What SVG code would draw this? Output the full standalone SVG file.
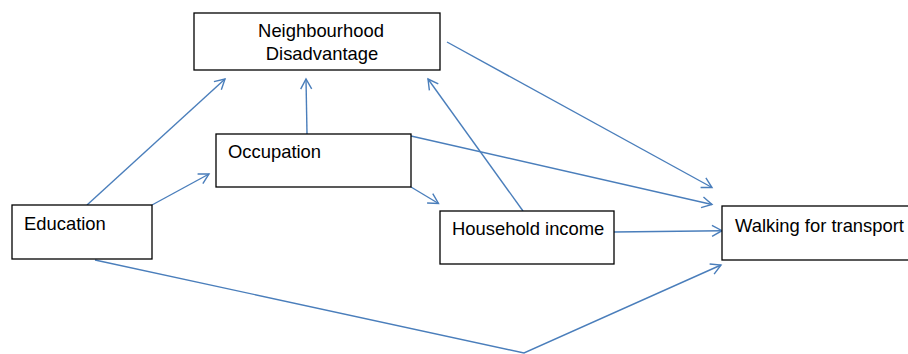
<svg xmlns="http://www.w3.org/2000/svg" width="908" height="354" viewBox="0 0 908 354">
<defs>
<style>
.box{fill:#fff;stroke:#000;stroke-width:1.3}
.lbl{font-family:"Liberation Sans",Arial,sans-serif;font-size:18.4px;fill:#000}
.c{fill:none;stroke:#4a7ebb;stroke-width:1.4}
</style>
<marker id="arr" markerUnits="userSpaceOnUse" markerWidth="14" markerHeight="14" viewBox="-12 -7 14 14" refX="0" refY="0" orient="auto">
<path d="M-10,-5.5 L0,0 L-10,5.5" fill="none" stroke="#4a7ebb" stroke-width="1.4"/>
</marker>
</defs>
<rect width="908" height="354" fill="#fff"/>
<g id="connectors">
<line class="c" x1="87" y1="205" x2="225" y2="79" marker-end="url(#arr)"/>
<line class="c" x1="152" y1="205" x2="209" y2="174" marker-end="url(#arr)"/>
<line class="c" x1="307" y1="134" x2="306" y2="79" marker-end="url(#arr)"/>
<line class="c" x1="523" y1="211" x2="428" y2="79" marker-end="url(#arr)"/>
<line class="c" x1="447" y1="42" x2="712" y2="187.5" marker-end="url(#arr)"/>
<line class="c" x1="411" y1="136" x2="712" y2="204.5" marker-end="url(#arr)"/>
<line class="c" x1="411" y1="187" x2="438.5" y2="203.5" marker-end="url(#arr)"/>
<line class="c" x1="614" y1="232" x2="722" y2="230.7" marker-end="url(#arr)"/>
<polyline class="c" points="95,260 524,353 721,265" marker-end="url(#arr)"/>
</g>
<g id="neighbourhood">
<rect class="box" x="194" y="13" width="246" height="57"/>
<text class="lbl" x="321" y="37" text-anchor="middle">Neighbourhood</text>
<text class="lbl" x="322" y="60" text-anchor="middle">Disadvantage</text>
</g>
<g id="occupation">
<rect class="box" x="216" y="134" width="195" height="53"/>
<text class="lbl" x="228" y="158">Occupation</text>
</g>
<g id="education">
<rect class="box" x="12" y="205" width="140" height="54"/>
<text class="lbl" x="24" y="230">Education</text>
</g>
<g id="household">
<rect class="box" x="440" y="211" width="174" height="53"/>
<text class="lbl" x="452" y="235">Household income</text>
</g>
<g id="walking">
<rect class="box" x="722" y="206" width="210" height="54"/>
<text class="lbl" x="735" y="231.5">Walking for transport</text>
</g>
</svg>
